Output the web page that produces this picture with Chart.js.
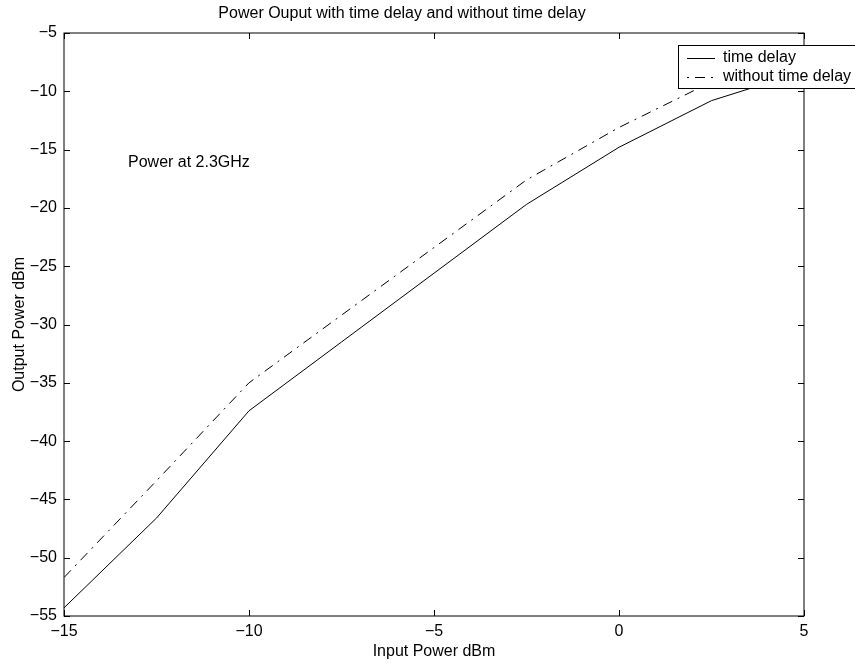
<!DOCTYPE html>
<html>
<head>
<meta charset="utf-8">
<script src="https://cdn.jsdelivr.net/npm/chart.js@4"></script>
<style>
  html, body { margin: 0; padding: 0; background: #fff; }
  canvas { display: block; }
</style>
</head>
<body>
<canvas id="grafico" width="855" height="663"></canvas>
<script>
// Dados
const potenciaEntrada = [-15, -12.5, -10, -7.5, -5, -2.5, 0, 2.5, 5];
const comAtraso = [-54.3, -46.6, -37.4, -31.5, -25.6, -19.7, -14.8, -10.8, -8.3];
const semAtraso = [-51.7, -43.4, -35.0, -29.2, -23.4, -17.6, -13.1, -9.2, -7.6];
const ticksX = [-15, -10, -5, 0, 5];
const ticksY = [-5, -10, -15, -20, -25, -30, -35, -40, -45, -50, -55];
const nomesSeries = ['time delay', 'without time delay'];
const anotacao = { texto: 'Power at 2.3GHz', x: -13.27, y: -16.1 };

const FONTE = "'Liberation Sans', Arial, Helvetica, sans-serif";
const TRACO = [10, 6, 2, 6];
const menos = v => String(v).replace('-', '\u2212');

// Moldura estilo matlab: caixa + ticks para dentro nos 4 lados, legenda e texto
const molduraPlugin = {
  id: 'moldura',
  beforeDraw(chart) {
    const c = chart.ctx;
    c.save(); c.fillStyle = '#fff'; c.fillRect(0, 0, chart.width, chart.height); c.restore();
  },
  afterDraw(chart) {
    const c = chart.ctx, a = chart.chartArea;
    const sx = chart.scales.x, sy = chart.scales.y;
    c.save();
    c.strokeStyle = '#000'; c.lineWidth = 1;
    c.strokeRect(a.left, a.top, a.right - a.left, a.bottom - a.top);
    c.beginPath();
    ticksX.forEach(v => {
      const px = Math.round(sx.getPixelForValue(v)) + 0.5;
      c.moveTo(px, a.bottom); c.lineTo(px, a.bottom - 6);
      c.moveTo(px, a.top); c.lineTo(px, a.top + 6);
    });
    ticksY.forEach(v => {
      const py = Math.round(sy.getPixelForValue(v)) + 0.5;
      c.moveTo(a.left, py); c.lineTo(a.left + 6, py);
      c.moveTo(a.right, py); c.lineTo(a.right - 6, py);
    });
    c.stroke();

    // anotação
    c.fillStyle = '#000';
    c.font = '16px ' + FONTE;
    c.textBaseline = 'middle'; c.textAlign = 'left';
    c.fillText(anotacao.texto, sx.getPixelForValue(anotacao.x), sy.getPixelForValue(anotacao.y));

    // legenda
    const lx = 678, ly = 45, lh = 43;
    c.fillStyle = '#fff';
    c.fillRect(lx, ly, 190, lh);
    c.strokeStyle = '#000'; c.lineWidth = 1;
    c.strokeRect(lx + 0.5, ly + 0.5, 190, lh);
    chart.data.datasets.forEach((ds, i) => {
      const yy = ly + 13 + i * 19;
      c.beginPath();
      c.setLineDash(ds.borderDash || []);
      c.lineDashOffset = ds.borderDash ? 16 : 0;
      c.moveTo(lx + 9, yy + 0.5); c.lineTo(lx + 37, yy + 0.5);
      c.stroke();
      c.setLineDash([]);
      c.fillStyle = '#000';
      c.fillText(ds.label, lx + 45, yy);
    });
    c.restore();
  }
};

new Chart(document.getElementById('grafico'), {
  type: 'line',
  data: {
    datasets: [
      { label: nomesSeries[0], data: potenciaEntrada.map((x, i) => ({ x, y: comAtraso[i] })),
        borderColor: '#000', borderWidth: 1, pointRadius: 0, tension: 0 },
      { label: nomesSeries[1], data: potenciaEntrada.map((x, i) => ({ x, y: semAtraso[i] })),
        borderColor: '#000', borderWidth: 1, borderDash: TRACO, pointRadius: 0, tension: 0 }
    ]
  },
  options: {
    responsive: false,
    animation: false,
    devicePixelRatio: 1,
    layout: { padding: { left: 0, right: 51, top: 0, bottom: 0 } },
    plugins: {
      legend: { display: false },
      tooltip: { enabled: false },
      title: {
        display: true,
        text: 'Power Ouput with time delay and without time delay',
        color: '#000',
        font: { family: FONTE, size: 16, weight: 'normal' },
        padding: { top: 4.4, bottom: 9.4 }
      }
    },
    scales: {
      x: {
        type: 'linear', min: -15, max: 5,
        afterBuildTicks: s => { s.ticks = ticksX.map(v => ({ value: v })); },
        afterFit: s => { s.height = 47; },
        grid: { display: false, drawTicks: false }, border: { display: false },
        ticks: { color: '#000', padding: 6, font: { family: FONTE, size: 16 }, callback: menos, maxRotation: 0 },
        title: { display: true, text: 'Input Power dBm', color: '#000',
                 font: { family: FONTE, size: 16 }, padding: { top: 0, bottom: 1.4 } }
      },
      y: {
        type: 'linear', min: -55, max: -5,
        afterBuildTicks: s => { s.ticks = ticksY.map(v => ({ value: v })); },
        afterFit: s => { s.width = 64; },
        grid: { display: false, drawTicks: false }, border: { display: false },
        ticks: { color: '#000', padding: 7, font: { family: FONTE, size: 16 }, callback: menos },
        title: { display: true, text: 'Output Power dBm', color: '#000',
                 font: { family: FONTE, size: 16 }, padding: { top: 10, bottom: 0 } }
      }
    }
  },
  plugins: [molduraPlugin]
});
</script>
</body>
</html>
